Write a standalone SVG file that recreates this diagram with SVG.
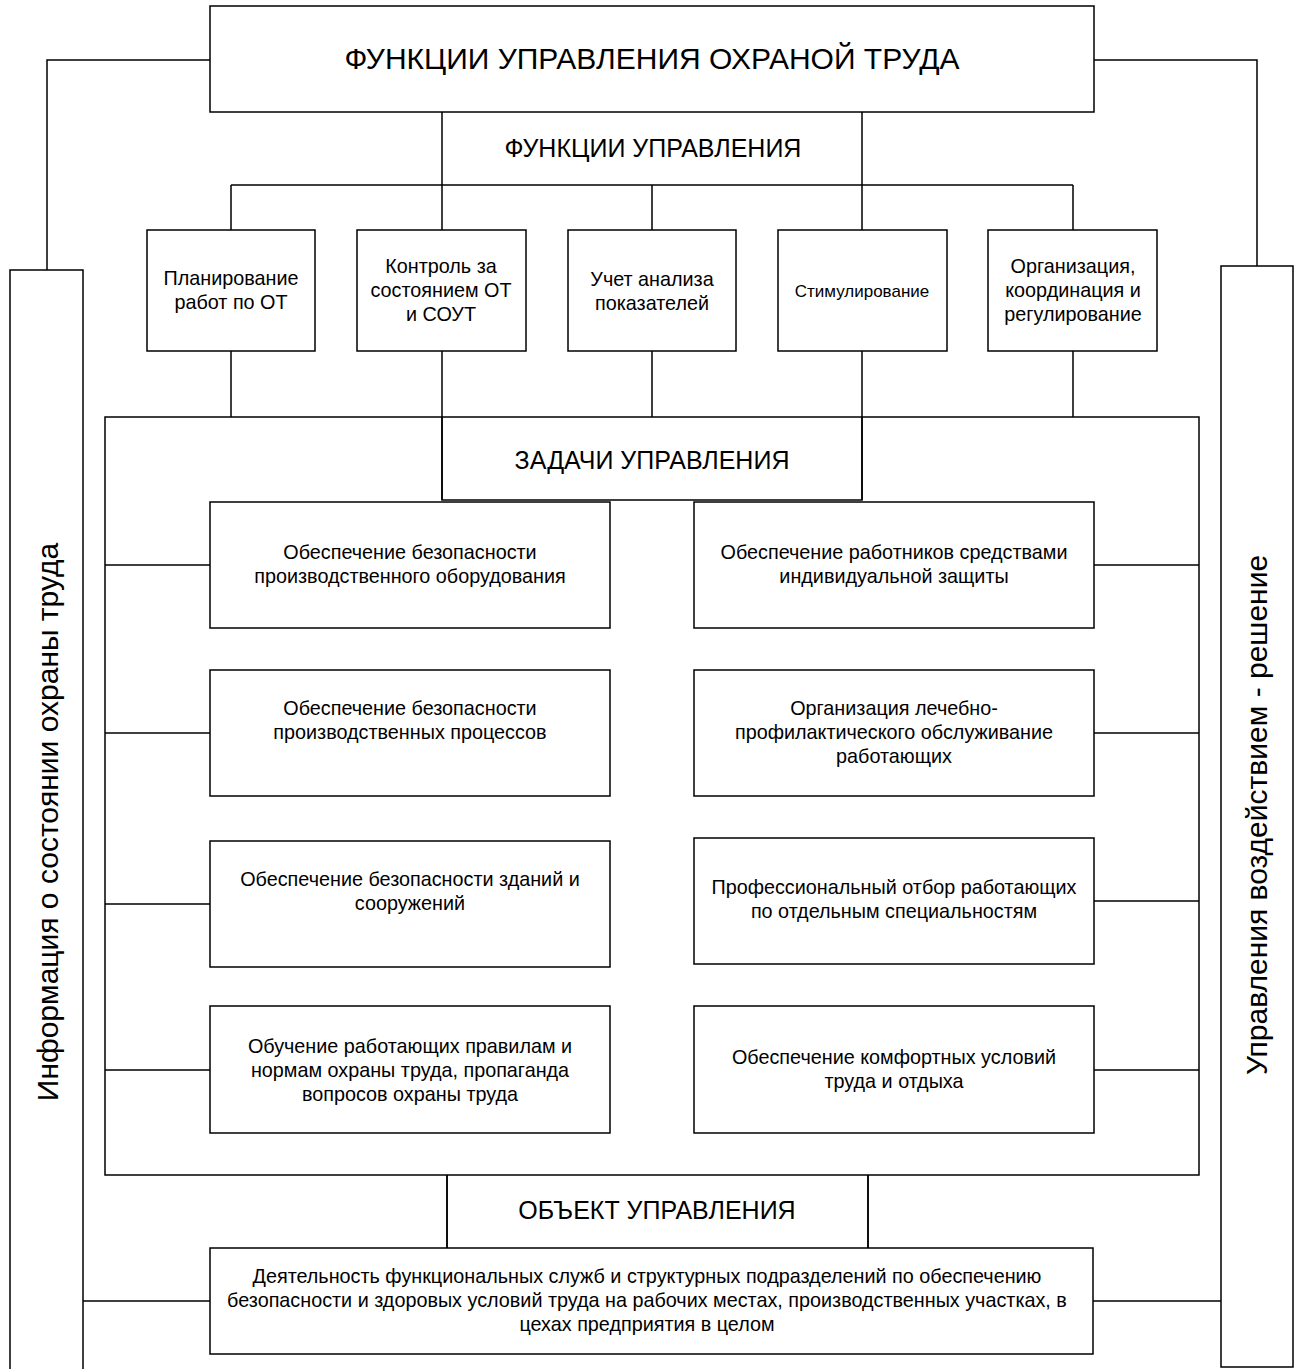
<svg xmlns="http://www.w3.org/2000/svg" width="1298" height="1369" viewBox="0 0 1298 1369">
<style>
.b{fill:#fff;stroke:#000;stroke-width:1.5}
.c{fill:none;stroke:#000;stroke-width:1.5}
text{font-family:"Liberation Sans",Arial,sans-serif;fill:#000;text-anchor:middle}
.t1{font-size:30px}
.t2{font-size:25px}
.t3{font-size:19.8px}
.t4{font-size:17px}
.tv{font-size:30px}
</style>
<rect width="1298" height="1369" fill="#fff"/>
<g id="connectors">
<path class="c" d="M210,60 H47 V270"/>
<path class="c" d="M1094,60 H1257 V266"/>
<path class="c" d="M442,112 V185 M862,112 V185 M231,185 H1073 M231,185 V230 M442,185 V230 M652,185 V230 M862,185 V230 M1073,185 V230"/>
<path class="c" d="M231,351 V417 M442,351 V500 M652,351 V417 M862,351 V500 M1073,351 V417"/>
<path class="c" d="M105,565 H210 M105,733 H210 M105,904 H210 M105,1070 H210"/>
<path class="c" d="M1094,565 H1199 M1094,733 H1199 M1094,901 H1199 M1094,1070 H1199"/>
<path class="c" d="M447,1175 V1248 M868,1175 V1248"/>
<path class="c" d="M83,1301 H210 M1093,1301 H1221"/>
</g>
<g id="n-title"><rect class="b" x="210" y="6" width="884" height="106"/><text class="t1" x="652" y="69">ФУНКЦИИ УПРАВЛЕНИЯ ОХРАНОЙ ТРУДА</text></g>
<g id="n-func-label"><text class="t2" x="653" y="157">ФУНКЦИИ УПРАВЛЕНИЯ</text></g>
<g id="n-f1"><rect class="b" x="147" y="230" width="168" height="121"/><text class="t3" x="231" y="285">Планирование</text><text class="t3" x="231" y="309">работ по ОТ</text></g>
<g id="n-f2"><rect class="b" x="357" y="230" width="169" height="121"/><text class="t3" x="441" y="273">Контроль за</text><text class="t3" x="441" y="297">состоянием ОТ</text><text class="t3" x="441" y="321">и СОУТ</text></g>
<g id="n-f3"><rect class="b" x="568" y="230" width="168" height="121"/><text class="t3" x="652" y="286">Учет анализа</text><text class="t3" x="652" y="310">показателей</text></g>
<g id="n-f4"><rect class="b" x="778" y="230" width="169" height="121"/><text class="t4" x="862" y="297">Стимулирование</text></g>
<g id="n-f5"><rect class="b" x="988" y="230" width="169" height="121"/><text class="t3" x="1073" y="273">Организация,</text><text class="t3" x="1073" y="297">координация и</text><text class="t3" x="1073" y="321">регулирование</text></g>
<g id="n-tasks"><rect class="c" x="105" y="417" width="1094" height="758"/><path class="c" d="M442,417 V500 H862 V417"/><text class="t2" x="652" y="469">ЗАДАЧИ УПРАВЛЕНИЯ</text></g>
<g id="n-t1"><rect class="b" x="210" y="502" width="400" height="126"/><text class="t3" x="410" y="559">Обеспечение безопасности</text><text class="t3" x="410" y="583">производственного оборудования</text></g>
<g id="n-t2"><rect class="b" x="210" y="670" width="400" height="126"/><text class="t3" x="410" y="715">Обеспечение безопасности</text><text class="t3" x="410" y="739">производственных процессов</text></g>
<g id="n-t3"><rect class="b" x="210" y="841" width="400" height="126"/><text class="t3" x="410" y="886">Обеспечение безопасности зданий и</text><text class="t3" x="410" y="910">сооружений</text></g>
<g id="n-t4"><rect class="b" x="210" y="1006" width="400" height="127"/><text class="t3" x="410" y="1053">Обучение работающих правилам и</text><text class="t3" x="410" y="1077">нормам охраны труда, пропаганда</text><text class="t3" x="410" y="1101">вопросов охраны труда</text></g>
<g id="n-t5"><rect class="b" x="694" y="502" width="400" height="126"/><text class="t3" x="894" y="559">Обеспечение работников средствами</text><text class="t3" x="894" y="583">индивидуальной защиты</text></g>
<g id="n-t6"><rect class="b" x="694" y="670" width="400" height="126"/><text class="t3" x="894" y="715">Организация лечебно-</text><text class="t3" x="894" y="739">профилактического обслуживание</text><text class="t3" x="894" y="763">работающих</text></g>
<g id="n-t7"><rect class="b" x="694" y="838" width="400" height="126"/><text class="t3" x="894" y="894">Профессиональный отбор работающих</text><text class="t3" x="894" y="918">по отдельным специальностям</text></g>
<g id="n-t8"><rect class="b" x="694" y="1006" width="400" height="127"/><text class="t3" x="894" y="1064">Обеспечение комфортных условий</text><text class="t3" x="894" y="1088">труда и отдыха</text></g>
<g id="n-object"><path class="c" d="M447,1175 V1248 M868,1175 V1248"/><text class="t2" x="657" y="1219">ОБЪЕКТ УПРАВЛЕНИЯ</text></g>
<g id="n-activity"><rect class="b" x="210" y="1248" width="883" height="106"/><text class="t3" x="647" y="1283">Деятельность функциональных служб и структурных подразделений по обеспечению</text><text class="t3" x="647" y="1307">безопасности и здоровых условий труда на рабочих местах, производственных участках, в</text><text class="t3" x="647" y="1331">цехах предприятия в целом</text></g>
<g id="n-info"><rect class="b" x="10" y="270" width="73" height="1110"/><text class="tv" transform="translate(58,822) rotate(-90)">Информация о состоянии охраны труда</text></g>
<g id="n-decision"><rect class="b" x="1221" y="266" width="72" height="1101"/><text class="tv" transform="translate(1267,815) rotate(-90)">Управления воздействием - решение</text></g>
</svg>
